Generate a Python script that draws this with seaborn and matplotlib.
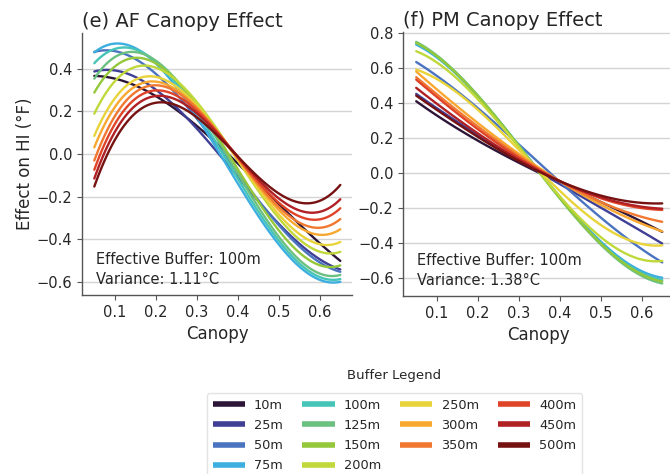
import numpy as np
import pandas as pd
import matplotlib
matplotlib.use("Agg")
import matplotlib.pyplot as plt
from matplotlib.lines import Line2D
import seaborn as sns

# ---------------- data ----------------
canopy = [0.05, 0.10, 0.15, 0.20, 0.25, 0.30, 0.35, 0.40, 0.45, 0.50, 0.55, 0.60, 0.65]
buffers = ['10m', '25m', '50m', '75m', '100m', '125m', '150m', '200m',
           '250m', '300m', '350m', '400m', '450m', '500m']
colors = ['#2d1537', '#3f3f96', '#4a73c0', '#3caee0', '#45c4b8', '#6cc080', '#94c83a',
          '#c0d83a', '#e8d43a', '#f8a830', '#f07830', '#e04428', '#b02024', '#761212']

# (e) AF canopy effect
af_10m = [0.37, 0.35, 0.32, 0.27, 0.21, 0.13, 0.05, -0.04, -0.14, -0.24, -0.33, -0.42, -0.50]
af_25m = [0.39, 0.39, 0.36, 0.30, 0.22, 0.12, 0.01, -0.105, -0.22, -0.33, -0.425, -0.495, -0.54]
af_50m = [0.48, 0.482, 0.446, 0.376, 0.281, 0.167, 0.041, -0.09, -0.217, -0.334, -0.434, -0.509, -0.553]
af_75m = [0.48, 0.514, 0.496, 0.426, 0.316, 0.177, 0.022, -0.138, -0.292, -0.426, -0.529, -0.59, -0.60]
af_100m = [0.43, 0.49, 0.487, 0.432, 0.333, 0.20, 0.047, -0.115, -0.271, -0.409, -0.516, -0.579, -0.585]
af_125m = [0.36, 0.45, 0.47, 0.438, 0.351, 0.224, 0.072, -0.091, -0.25, -0.392, -0.50, -0.562, -0.565]
af_150m = [0.30, 0.40, 0.44, 0.424, 0.351, 0.235, 0.089, -0.069, -0.225, -0.364, -0.468, -0.525, -0.517]
af_200m = [0.20, 0.33, 0.40, 0.405, 0.351, 0.25, 0.119, -0.028, -0.174, -0.305, -0.406, -0.46, -0.455]
af_250m = [0.09, 0.255, 0.345, 0.362, 0.32, 0.23, 0.109, -0.029, -0.166, -0.287, -0.377, -0.418, -0.415]
af_300m = [0.035, 0.215, 0.315, 0.34, 0.304, 0.221, 0.106, -0.024, -0.153, -0.266, -0.345, -0.375, -0.355]
af_350m = [-0.03, 0.175, 0.29, 0.324, 0.294, 0.215, 0.105, -0.021, -0.145, -0.25, -0.32, -0.34, -0.31]
af_400m = [-0.075, 0.14, 0.26, 0.30, 0.276, 0.204, 0.10, -0.018, -0.134, -0.23, -0.289, -0.30, -0.26]
af_450m = [-0.12, 0.105, 0.232, 0.277, 0.255, 0.188, 0.092, -0.016, -0.121, -0.207, -0.258, -0.265, -0.22]
af_500m = [-0.155, 0.065, 0.195, 0.244, 0.229, 0.170, 0.083, -0.015, -0.109, -0.184, -0.225, -0.215, -0.15]

# (f) PM canopy effect
pm_10m = [0.41, 0.33, 0.255, 0.185, 0.12, 0.06, 0.0, -0.055, -0.11, -0.165, -0.22, -0.28, -0.335]
pm_25m = [0.455, 0.37, 0.29, 0.215, 0.145, 0.075, 0.01, -0.06, -0.13, -0.20, -0.27, -0.335, -0.40]
pm_50m = [0.636, 0.555, 0.465, 0.37, 0.27, 0.165, 0.06, -0.05, -0.155, -0.255, -0.35, -0.435, -0.51]
pm_75m = [0.73, 0.665, 0.565, 0.44, 0.30, 0.155, 0.01, -0.135, -0.27, -0.39, -0.49, -0.56, -0.60]
pm_100m = [0.74, 0.67, 0.568, 0.44, 0.30, 0.155, 0.007, -0.14, -0.278, -0.398, -0.498, -0.57, -0.615]
pm_125m = [0.745, 0.677, 0.573, 0.443, 0.302, 0.155, 0.004, -0.147, -0.287, -0.407, -0.508, -0.585, -0.635]
pm_150m = [0.74, 0.672, 0.57, 0.44, 0.30, 0.155, 0.005, -0.145, -0.283, -0.40, -0.50, -0.575, -0.625]
pm_200m = [0.70, 0.63, 0.535, 0.42, 0.29, 0.15, 0.01, -0.13, -0.26, -0.37, -0.45, -0.495, -0.50]
pm_250m = [0.60, 0.53, 0.45, 0.36, 0.255, 0.14, 0.02, -0.10, -0.21, -0.30, -0.37, -0.405, -0.41]
pm_300m = [0.58, 0.48, 0.38, 0.285, 0.195, 0.11, 0.03, -0.045, -0.115, -0.18, -0.24, -0.295, -0.33]
pm_350m = [0.55, 0.45, 0.355, 0.265, 0.18, 0.10, 0.025, -0.045, -0.11, -0.165, -0.215, -0.255, -0.275]
pm_400m = [0.535, 0.435, 0.34, 0.25, 0.165, 0.09, 0.02, -0.045, -0.10, -0.145, -0.18, -0.20, -0.21]
pm_450m = [0.49, 0.395, 0.305, 0.225, 0.15, 0.08, 0.015, -0.045, -0.095, -0.14, -0.175, -0.195, -0.20]
pm_500m = [0.445, 0.36, 0.28, 0.205, 0.135, 0.07, 0.01, -0.045, -0.09, -0.13, -0.16, -0.173, -0.17]

af_series = [af_10m, af_25m, af_50m, af_75m, af_100m, af_125m, af_150m,
             af_200m, af_250m, af_300m, af_350m, af_400m, af_450m, af_500m]
pm_series = [pm_10m, pm_25m, pm_50m, pm_75m, pm_100m, pm_125m, pm_150m,
             pm_200m, pm_250m, pm_300m, pm_350m, pm_400m, pm_450m, pm_500m]

titles = ['(e) AF Canopy Effect', '(f) PM Canopy Effect']
notes = ['Effective Buffer: 100m\nVariance: 1.11°C', 'Effective Buffer: 100m\nVariance: 1.38°C']

# ---------------- style ----------------
sns.set_theme(style="whitegrid")
plt.rcParams['font.family'] = ['DejaVu Sans']
TXT = '#262626'

fig = plt.figure(figsize=(6.7, 4.74), dpi=100)
ax1 = fig.add_axes([82 / 670, 1 - 295 / 474, 270 / 670, 262 / 474])
ax2 = fig.add_axes([403.3 / 670, 1 - 296 / 474, 270.6 / 670, 264 / 474])

for ax, series, title, note in [(ax1, af_series, titles[0], notes[0]),
                                (ax2, pm_series, titles[1], notes[1])]:
    for b, c, vals in zip(buffers, colors, series):
        df = pd.DataFrame({'Canopy': canopy, 'Effect': vals})
        sns.regplot(data=df, x='Canopy', y='Effect', order=3, ci=None, scatter=False,
                    truncate=True, color=c, line_kws={'linewidth': 1.7}, ax=ax)
    ax.set_title(title, loc='left', fontsize=14, color=TXT, pad=4)
    ax.set_xlabel('Canopy', fontsize=12, color=TXT)
    ax.set_xticks([0.1, 0.2, 0.3, 0.4, 0.5, 0.6])
    ax.grid(axis='x', visible=False)
    ax.grid(axis='y', color='#d4d4d4', linewidth=1.0)
    for s in ['top', 'right']:
        ax.spines[s].set_visible(False)
    for s in ['left', 'bottom']:
        ax.spines[s].set_color('#555555')
        ax.spines[s].set_linewidth(1.0)
    ax.tick_params(axis='both', labelsize=10.5, colors=TXT, length=3.5, width=0.8,
                   bottom=True, left=True, color='#555555')
    ax.text(0.05, 0.03, note, transform=ax.transAxes, fontsize=10.5, color=TXT,
            ha='left', va='bottom', linespacing=1.45)

ax1.set_xlim(0.02, 0.6785)
ax1.set_ylim(-0.662, 0.568)
ax1.set_yticks([-0.6, -0.4, -0.2, 0.0, 0.2, 0.4])
ax1.set_ylabel('Effect on HI (°F)', fontsize=12, color=TXT, labelpad=2)

ax2.set_xlim(0.0185, 0.6785)
ax2.set_ylim(-0.703, 0.806)
ax2.set_yticks([-0.6, -0.4, -0.2, 0.0, 0.2, 0.4, 0.6, 0.8])
ax2.set_ylabel('')

handles = [Line2D([0], [0], color=c, linewidth=4, solid_capstyle='butt') for c in colors]
fig.text(394 / 670, 1 - 376 / 474, 'Buffer Legend', ha='center', va='center',
         fontsize=9.5, color=TXT)
leg = fig.legend(handles, buffers, loc='upper center', bbox_to_anchor=(394.5 / 670, 1 - 393 / 474),
                 ncol=4, fontsize=9.3, frameon=True, fancybox=True, handlelength=2.5,
                 handletextpad=0.7, columnspacing=1.5, labelspacing=0.55, borderpad=0.45,
                 borderaxespad=0.0)
leg.get_frame().set_edgecolor('#dddddd')
for t in leg.get_texts():
    t.set_color(TXT)

fig.savefig('out.png', dpi=100)
